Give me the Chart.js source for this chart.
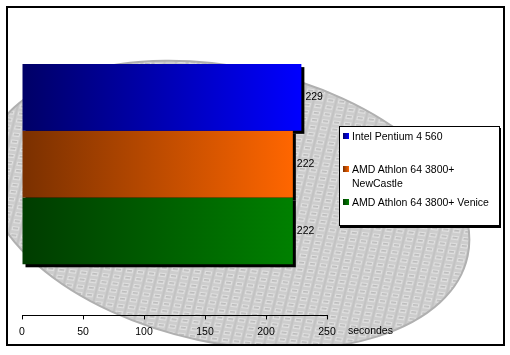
<!DOCTYPE html>
<html><head><meta charset="utf-8">
<script src="https://cdn.jsdelivr.net/npm/chart.js@4.4.1/dist/chart.umd.min.js"></script>
<style>
html,body{margin:0;padding:0;background:#fff;}
#wrap{position:relative;width:510px;height:355px;overflow:hidden;}
#c{position:absolute;left:0;top:0;}
#legend{position:absolute;left:339px;top:126px;width:161px;height:100px;box-sizing:border-box;border:1px solid #000;background:#fff;box-shadow:1px 2px 0 #000;font:10.5px "Liberation Sans",Arial,sans-serif;color:#000;}
.item{position:absolute;left:12px;width:146px;line-height:14px;}
.mk{position:absolute;left:-9px;top:4px;width:6px;height:6px;}
</style></head>
<body><div id="wrap"><canvas id="c" width="510" height="355"></canvas><div id="legend"></div></div>
<script>
// ---- data ----
const categories = [''];
const seriesLabels = ['Intel Pentium 4 560', 'AMD Athlon 64 3800+ NewCastle', 'AMD Athlon 64 3800+ Venice'];
const intelP4_560 = [229];
const athlonNewCastle = [222];
const athlonVenice = [222];
const xTickValues = [0, 50, 100, 150, 200, 250];
const axisTitle = 'secondes';

// ---- styles ----
const gradColors = [['#000066', '#0000ff'], ['#7a3000', '#ff6600'], ['#003c00', '#008000']];
const legendTops = [2, 35, 68];
const FONT = '"Liberation Sans", Arial, sans-serif';

function barGradient(ctx, i) {
  const chart = ctx.chart;
  const area = chart.chartArea;
  const cols = gradColors[i];
  if (!area || !chart.scales.x || ctx.parsed == null) return cols[1];
  const x0 = area.left;
  const x1 = chart.scales.x.getPixelForValue(ctx.parsed.x);
  const g = chart.ctx.createLinearGradient(x0, 0, Math.max(x1, x0 + 1), 0);
  g.addColorStop(0, cols[0]);
  g.addColorStop(1, cols[1]);
  return g;
}

// wafer pattern tile
function makePattern(ctx) {
  const t = document.createElement('canvas');
  t.width = 11; t.height = 7;
  const c = t.getContext('2d');
  c.fillStyle = '#cdcdcd'; c.fillRect(0, 0, 11, 7);
  c.fillStyle = '#c3c3c3'; c.fillRect(9, 0, 2, 7);
  c.fillStyle = '#e0e0e0'; c.fillRect(1, 1, 7, 4);
  c.fillStyle = '#bcbcbc'; c.fillRect(2, 2, 5, 1);
  c.fillStyle = '#c9c9c9'; c.fillRect(2, 3, 5, 1);
  const p = ctx.createPattern(t, 'repeat');
  try { p.setTransform(new DOMMatrix([1, 0.12, -0.25, 1, 0, 0])); } catch (e) {}
  return p;
}

const backgroundPlugin = {
  id: 'bg',
  beforeDraw(chart) {
    const ctx = chart.ctx;
    ctx.save();
    ctx.fillStyle = '#fff';
    ctx.fillRect(0, 0, chart.width, chart.height);
    ctx.beginPath(); ctx.rect(7, 7, 497, 338); ctx.clip();
    ctx.beginPath();
    ctx.ellipse(227, 205, 246, 138, 12 * Math.PI / 180, 0, Math.PI * 2);
    ctx.fillStyle = makePattern(ctx);
    ctx.fill();
    ctx.lineWidth = 2; ctx.strokeStyle = '#b0b0b0'; ctx.stroke();
    ctx.restore();
    ctx.save();
    ctx.lineWidth = 2; ctx.strokeStyle = '#000';
    ctx.strokeRect(7, 7, 497, 338);
    ctx.restore();
  },
  beforeDatasetsDraw(chart) {
    const ctx = chart.ctx;
    ctx.save();
    ctx.fillStyle = '#000';
    chart.data.datasets.forEach((ds, i) => {
      chart.getDatasetMeta(i).data.forEach(el => {
        const p = el.getProps(['x', 'y', 'base', 'height'], true);
        ctx.fillRect(Math.min(p.base, p.x) + 3, p.y - p.height / 2 + 3, Math.abs(p.x - p.base), p.height);
      });
    });
    ctx.restore();
  },
  afterDatasetsDraw(chart) {
    const ctx = chart.ctx;
    ctx.save();
    ctx.fillStyle = '#000';
    ctx.font = '10.5px ' + FONT;
    ctx.textBaseline = 'middle';
    ctx.textAlign = 'left';
    chart.data.datasets.forEach((ds, i) => {
      chart.getDatasetMeta(i).data.forEach((el, j) => {
        const p = el.getProps(['x', 'y'], true);
        ctx.fillText(String(ds.data[j]), p.x + 4, p.y);
      });
    });
    // axis title
    const xs = chart.scales.x;
    ctx.fillText(axisTitle, xs.right + 21, xs.top + 16);
    ctx.restore();
  }
};

const seriesData = [intelP4_560, athlonNewCastle, athlonVenice];
const chart = new Chart(document.getElementById('c'), {
  type: 'bar',
  data: {
    labels: categories,
    datasets: seriesData.map((d, i) => ({
      label: seriesLabels[i],
      data: d,
      backgroundColor: (ctx) => barGradient(ctx, i),
      borderWidth: 0,
      categoryPercentage: 0.662,
      barPercentage: 1
    }))
  },
  options: {
    indexAxis: 'y',
    responsive: false,
    animation: false,
    devicePixelRatio: 1,
    layout: { padding: { left: 22, right: 183, top: 13, bottom: 11 } },
    plugins: { legend: { display: false }, tooltip: { enabled: false } },
    scales: {
      x: {
        min: xTickValues[0], max: xTickValues[xTickValues.length - 1],
        afterBuildTicks(scale) { scale.ticks = xTickValues.map(v => ({ value: v })); },
        ticks: { color: '#000', font: { family: FONT, size: 10.5 }, padding: 6, maxRotation: 0 },
        grid: { drawOnChartArea: false, drawTicks: true, tickLength: 4, color: '#000', lineWidth: 1 },
        border: { display: true, color: '#000', width: 1 }
      },
      y: { display: false }
    }
  },
  plugins: [backgroundPlugin]
});

// legend from series
const leg = document.getElementById('legend');
seriesLabels.forEach((lab, i) => {
  const d = document.createElement('div');
  d.className = 'item';
  d.style.top = legendTops[i] + 'px';
  const m = document.createElement('span');
  m.className = 'mk';
  m.style.background = 'linear-gradient(to right,' + gradColors[i][0] + ',' + gradColors[i][1] + ')';
  d.appendChild(m);
  d.appendChild(document.createTextNode(lab));
  leg.appendChild(d);
});
</script>
</body></html>
